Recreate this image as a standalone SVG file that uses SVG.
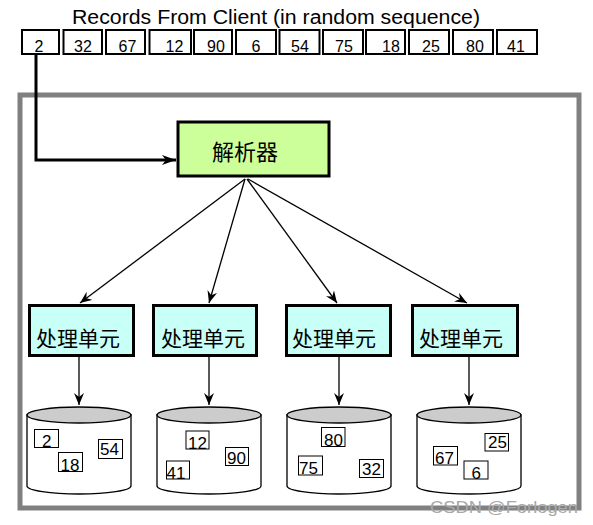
<svg xmlns="http://www.w3.org/2000/svg" width="593" height="525" viewBox="0 0 593 525">
<style>
text{font-family:"Liberation Sans",Arial,sans-serif;fill:#000}
.cjk{font-family:"Noto Sans CJK SC","Liberation Sans",sans-serif}
.rec{fill:#fff;stroke:#000;stroke-width:2}
.num{font-size:16px;text-anchor:middle}
.sm{fill:none;stroke:#000;stroke-width:1}
.sn{font-size:17px}
.pu{fill:#c8fff7;stroke:#000;stroke-width:3}
.cylb{fill:#fff;stroke:#000;stroke-width:1.3}
.cylt{fill:#cccccc;stroke:#000;stroke-width:1.3}
.ln{fill:none;stroke:#000;stroke-width:1.3}
</style>
<defs>
<marker id="ah" viewBox="0 0 12 10" refX="12" refY="5" markerWidth="12" markerHeight="10" markerUnits="userSpaceOnUse" orient="auto">
<path d="M0,0 L12,5 L0,10 L4,5 z" fill="#000"/>
</marker>
<marker id="ahb" viewBox="0 0 14 10" refX="14" refY="5" markerWidth="14" markerHeight="10" markerUnits="userSpaceOnUse" orient="auto">
<path d="M0,0 L14,5 L0,10 L4,5 z" fill="#000"/>
</marker>
</defs>

<text x="72" y="24" font-size="20" textLength="408" lengthAdjust="spacingAndGlyphs">Records From Client (in random sequence)</text>

<g id="records">
<rect class="rec" x="22" y="30" width="37" height="24"/><text class="num" x="39" y="52">2</text>
<rect class="rec" x="63.5" y="30" width="38.5" height="24"/><text class="num" x="83" y="52">32</text>
<rect class="rec" x="106" y="30" width="39" height="24"/><text class="num" x="127.5" y="52">67</text>
<rect class="rec" x="149.5" y="30" width="41.5" height="24"/><text class="num" x="174.5" y="52">12</text>
<rect class="rec" x="194" y="30" width="38" height="24"/><text class="num" x="216" y="52">90</text>
<rect class="rec" x="236" y="30" width="40" height="24"/><text class="num" x="256" y="52">6</text>
<rect class="rec" x="279.5" y="30" width="40" height="24"/><text class="num" x="300" y="52">54</text>
<rect class="rec" x="323" y="30" width="40" height="24"/><text class="num" x="344" y="52">75</text>
<rect class="rec" x="366" y="30" width="39" height="24"/><text class="num" x="391" y="52">18</text>
<rect class="rec" x="409" y="30" width="40" height="24"/><text class="num" x="431" y="52">25</text>
<rect class="rec" x="453" y="30" width="40" height="24"/><text class="num" x="475" y="52">80</text>
<rect class="rec" x="497" y="30" width="40" height="24"/><text class="num" x="516" y="52">41</text>
</g>

<rect id="frame" x="20" y="95" width="559" height="413" fill="none" stroke="#808080" stroke-width="5"/>

<g id="connectors">
<polyline points="36,55 36,160 176,160" fill="none" stroke="#000" stroke-width="3" marker-end="url(#ahb)"/>
<line class="ln" x1="245" y1="179" x2="80" y2="303" marker-end="url(#ah)"/>
<line class="ln" x1="245" y1="179" x2="209" y2="303" marker-end="url(#ah)"/>
<line class="ln" x1="247" y1="179" x2="337" y2="303" marker-end="url(#ah)"/>
<line class="ln" x1="248" y1="179" x2="467" y2="303" marker-end="url(#ah)"/>
<line class="ln" x1="79" y1="357" x2="79" y2="405" marker-end="url(#ah)"/>
<line class="ln" x1="209" y1="357" x2="209" y2="405" marker-end="url(#ah)"/>
<line class="ln" x1="339" y1="357" x2="339" y2="405" marker-end="url(#ah)"/>
<line class="ln" x1="469" y1="357" x2="469" y2="405" marker-end="url(#ah)"/>
</g>

<g id="parser">
<rect x="178" y="122" width="151" height="54" fill="#ccff99" stroke="#000" stroke-width="3"/>
<text class="cjk" x="245" y="160" font-size="22" text-anchor="middle">解析器</text>
</g>

<g id="pu1"><rect class="pu" x="29.5" y="305.5" width="104" height="50"/><text class="cjk" x="36" y="346" font-size="21">处理单元</text></g>
<g id="pu2"><rect class="pu" x="153.5" y="305.5" width="103" height="50"/><text class="cjk" x="161" y="346" font-size="21">处理单元</text></g>
<g id="pu3"><rect class="pu" x="286.5" y="305.5" width="104" height="50"/><text class="cjk" x="292" y="346" font-size="21">处理单元</text></g>
<g id="pu4"><rect class="pu" x="412.5" y="305.5" width="105" height="50"/><text class="cjk" x="419" y="346" font-size="21">处理单元</text></g>

<g id="store1">
<path class="cylb" d="M27,415 L27,486 A52,8 0 0 0 131,486 L131,415 Z"/>
<ellipse class="cylt" cx="79" cy="415" rx="52" ry="8"/>
<rect class="sm" x="34.5" y="429.5" width="24" height="18"/><text class="sn" x="42" y="447">2</text>
<rect class="sm" x="58.5" y="452.5" width="24" height="19"/><text class="sn" x="60.5" y="471">18</text>
<rect class="sm" x="98.5" y="439.5" width="24" height="19"/><text class="sn" x="100" y="455">54</text>
</g>
<g id="store2">
<path class="cylb" d="M157,415 L157,486 A52,8 0 0 0 261,486 L261,415 Z"/>
<ellipse class="cylt" cx="209" cy="415" rx="52" ry="8"/>
<rect class="sm" x="186" y="431" width="23" height="18"/><text class="sn" x="188" y="449">12</text>
<rect class="sm" x="225.5" y="447.5" width="23" height="18"/><text class="sn" x="227" y="464">90</text>
<rect class="sm" x="166.5" y="461" width="23" height="18"/><text class="sn" x="166.5" y="479">41</text>
</g>
<g id="store3">
<path class="cylb" d="M287,415 L287,486 A52,8 0 0 0 391,486 L391,415 Z"/>
<ellipse class="cylt" cx="339" cy="415" rx="52" ry="8"/>
<rect class="sm" x="321.5" y="427.5" width="23.5" height="19"/><text class="sn" x="324" y="446">80</text>
<rect class="sm" x="298.5" y="456" width="24" height="19"/><text class="sn" x="299" y="474">75</text>
<rect class="sm" x="359.5" y="459.5" width="24" height="18"/><text class="sn" x="362" y="475">32</text>
</g>
<g id="store4">
<path class="cylb" d="M417,415 L417,486 A52,8 0 0 0 521,486 L521,415 Z"/>
<ellipse class="cylt" cx="469" cy="415" rx="52" ry="8"/>
<rect class="sm" x="433.5" y="446.5" width="24" height="18.5"/><text class="sn" x="435" y="464">67</text>
<rect class="sm" x="485" y="433.5" width="23.5" height="17.5"/><text class="sn" x="488" y="448">25</text>
<rect class="sm" x="464" y="461" width="24" height="18"/><text class="sn" x="471.5" y="479">6</text>
</g>

<text x="430" y="513" font-size="17" fill="#a8a8a8" style="fill:#a8a8a8" textLength="148" lengthAdjust="spacingAndGlyphs">CSDN @Forlogen</text>
</svg>
